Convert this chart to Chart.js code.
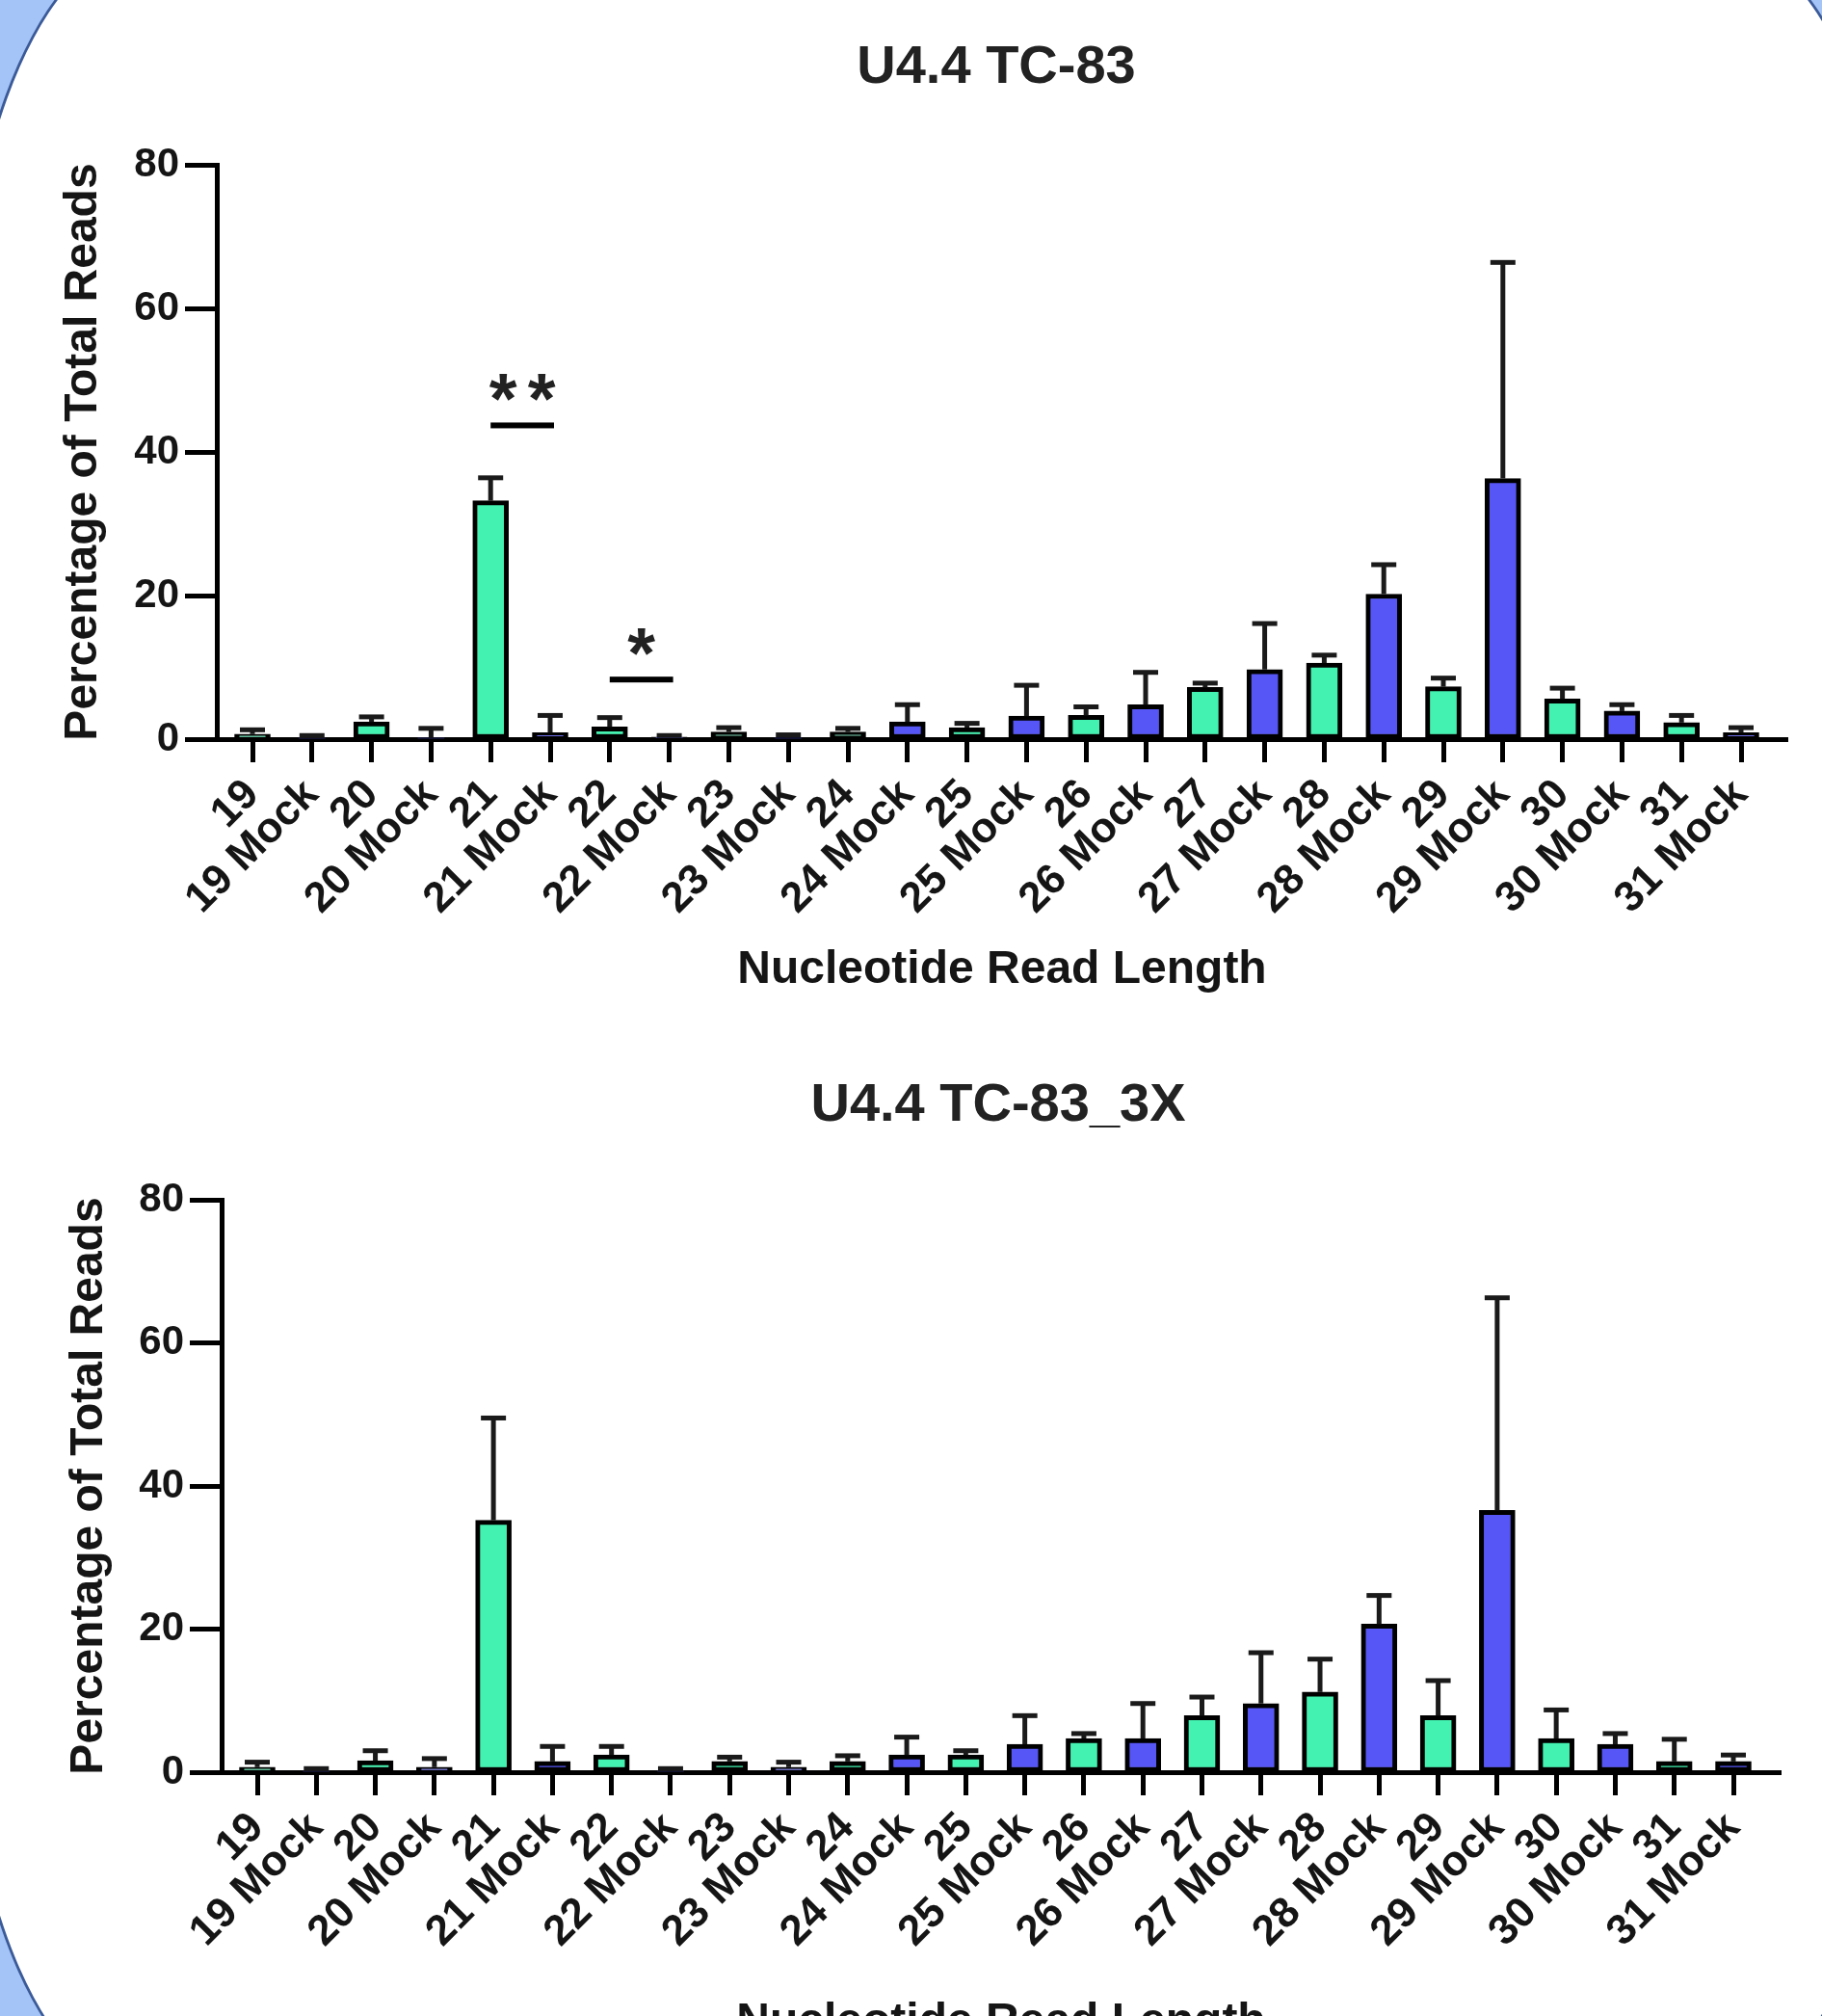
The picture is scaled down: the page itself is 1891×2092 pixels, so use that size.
<!DOCTYPE html>
<html>
<head>
<meta charset="utf-8">
<script src="https://cdn.jsdelivr.net/npm/chart.js@4.4.1/dist/chart.umd.min.js"></script>
<style>
html, body { margin: 0; padding: 0; width: 1891px; height: 2092px; overflow: hidden; background: #a4c4f8; }
#shape { position: absolute; left: -40px; top: -65px; width: 2016px; height: 2242px; border-radius: 200px / 450px;
  background: #ffffff; border: 3px solid #3b5a98; box-sizing: border-box; }
.wrap { position: absolute; left: 0; width: 1891px; }
#w1 { top: 0px; height: 1080px; }
#w2 { top: 1080px; height: 1100px; }
</style>
</head>
<body>
<div id="shape"></div>
<div class="wrap" id="w1"><canvas id="c1"></canvas></div>
<div class="wrap" id="w2"><canvas id="c2"></canvas></div>
<script>
// ---------- data ----------
const categories = ['19', '19 Mock', '20', '20 Mock', '21', '21 Mock', '22', '22 Mock', '23', '23 Mock',
  '24', '24 Mock', '25', '25 Mock', '26', '26 Mock', '27', '27 Mock', '28', '28 Mock', '29', '29 Mock',
  '30', '30 Mock', '31', '31 Mock'];

const tc83Means  = [0.7, 0.2, 2.4, 0.2, 33.2, 0.9, 1.7, 0.3, 1.0, 0.2, 1.0, 2.4, 1.6, 3.2, 3.3, 4.8,
  7.2, 9.7, 10.6, 20.2, 7.3, 36.3, 5.6, 3.9, 2.3, 0.9];
const tc83Errors = [0.6, 0.3, 0.7, 1.3, 3.2, 2.4, 1.3, 0.2, 0.6, 0.4, 0.5, 2.4, 0.6, 4.3, 1.2, 4.5,
  0.6, 6.4, 1.1, 4.1, 1.2, 30.1, 1.5, 0.9, 1.0, 0.7];

const tc83x3Means  = [0.7, 0.2, 1.6, 0.7, 35.2, 1.5, 2.4, 0.2, 1.5, 0.7, 1.5, 2.4, 2.4, 3.9, 4.7, 4.7,
  7.9, 9.6, 11.2, 20.7, 7.9, 36.6, 4.7, 3.9, 1.5, 1.5];
const tc83x3Errors = [0.7, 0.3, 1.4, 1.2, 14.3, 2.1, 1.2, 0.3, 0.6, 0.7, 0.8, 2.5, 0.6, 4.0, 0.7, 4.9,
  2.6, 7.1, 4.6, 4.0, 4.9, 29.7, 4.0, 1.5, 3.1, 0.9];

const yTicks = [0, 20, 40, 60, 80];

const tc83Significance = [
  { from: '21', to: '21 Mock', lineValue: 43.7, starValue: 49.0, label: '**' },
  { from: '22', to: '22 Mock', lineValue: 8.3, starValue: 13.6, label: '*' }
];
const tc83x3Significance = [];

// ---------- styles ----------
const GREEN = '#43f2b0';
const BLUE = '#5656f6';
const FONT = '"Liberation Sans", Arial, sans-serif';
const TEXT = '#151515';

function barColor(cat) { return cat.indexOf('Mock') >= 0 ? BLUE : GREEN; }

const errorBarPlugin = {
  id: 'errorBars',
  afterDatasetsDraw(chart, args, opts) {
    const { ctx, scales: { y } } = chart;
    const meta = chart.getDatasetMeta(0);
    const ds = chart.data.datasets[0].data;
    ctx.save();
    ctx.strokeStyle = '#1a1a1a';
    ctx.lineWidth = 5;
    ctx.lineCap = 'butt';
    meta.data.forEach((bar, i) => {
      const v = ds[i].y;
      const e = opts.errors[i];
      const cx = bar.x;
      const yv = y.getPixelForValue(v);
      const ye = y.getPixelForValue(v + e);
      ctx.beginPath();
      ctx.moveTo(cx, yv);
      ctx.lineTo(cx, ye);
      ctx.stroke();
      ctx.beginPath();
      ctx.moveTo(cx - 13, ye);
      ctx.lineTo(cx + 13, ye);
      ctx.stroke();
    });
    ctx.restore();
  }
};

const sigPlugin = {
  id: 'sigMarks',
  afterDatasetsDraw(chart, args, opts) {
    const marks = opts.marks || [];
    const { ctx, scales: { x, y } } = chart;
    ctx.save();
    marks.forEach(m => {
      const x1 = x.getPixelForValue(categories.indexOf(m.from));
      const x2 = x.getPixelForValue(categories.indexOf(m.to));
      const yl = y.getPixelForValue(m.lineValue);
      ctx.fillStyle = '#000';
      ctx.fillRect(x1, yl - 3, x2 - x1 + 4, 6);
      const ys = y.getPixelForValue(m.starValue);
      ctx.font = 'bold 74px ' + FONT;
      ctx.textAlign = 'center';
      ctx.textBaseline = 'alphabetic';
      ctx.fillStyle = '#222';
      const mt = ctx.measureText('*');
      const base = ys + (mt.actualBoundingBoxAscent - mt.actualBoundingBoxDescent) / 2;
      const n = m.label.length;
      const cxm = (x1 + x2) / 2 + 2;
      for (let k = 0; k < n; k++) {
        ctx.fillText(m.label[k], cxm + (k - (n - 1) / 2) * 40, base);
      }
    });
    ctx.restore();
  }
};

const panelTitlePlugin = {
  id: 'panelTitle',
  afterDraw(chart, args, opts) {
    const { ctx } = chart;
    ctx.save();
    ctx.font = 'bold 56px ' + FONT;
    ctx.fillStyle = '#222';
    ctx.textAlign = 'center';
    ctx.textBaseline = 'middle';
    ctx.fillText(opts.text, opts.x, opts.y);
    ctx.restore();
  }
};

function buildChart(canvasId, L) {
  const n = categories.length;
  const ppu = (L.lastCenter - L.firstCenter) / (n - 1);
  const xMin = -(L.firstCenter - L.left) / ppu;
  const xMax = (n - 1) + (L.right - L.lastCenter) / ppu;
  const top = L.top - L.wrapTop;
  const bottom = L.bottom - L.wrapTop;
  const xScaleBottom = L.xTitleY - L.wrapTop + 28.8;
  return new Chart(document.getElementById(canvasId), {
    type: 'bar',
    data: {
      datasets: [{
        data: categories.map((c, i) => ({ x: i, y: L.means[i] })),
        backgroundColor: categories.map(barColor),
        borderColor: '#000',
        borderWidth: 5,
        borderSkipped: false,
        barThickness: 37
      }]
    },
    plugins: [errorBarPlugin, sigPlugin, panelTitlePlugin],
    options: {
      responsive: true,
      maintainAspectRatio: false,
      devicePixelRatio: 1,
      animation: false,
      events: [],
      layout: { padding: { top: top, bottom: L.height - xScaleBottom, left: 0, right: 1891 - L.right } },
      plugins: {
        legend: { display: false },
        tooltip: { enabled: false },
        title: { display: false },
        errorBars: { errors: L.errors },
        sigMarks: { marks: L.sig },
        panelTitle: { text: L.title, x: L.titleX, y: L.titleY - L.wrapTop }
      },
      scales: {
        x: {
          type: 'linear',
          offset: false,
          bounds: 'data',
          min: xMin,
          max: xMax,
          afterBuildTicks: s => { s.ticks = categories.map((c, i) => ({ value: i })); },
          afterFit: s => { s.height = xScaleBottom - bottom; },
          ticks: {
            autoSkip: false,
            maxRotation: 45,
            minRotation: 45,
            padding: 8,
            color: TEXT,
            font: { family: FONT, size: 44, weight: 'bold' },
            callback: v => categories[v]
          },
          grid: { offset: false, drawOnChartArea: false, drawTicks: true, tickLength: 24, tickWidth: 5, tickColor: '#000' },
          border: { display: true, width: 5, color: '#000' },
          title: {
            display: true,
            text: 'Nucleotide Read Length',
            color: TEXT,
            font: { family: FONT, size: 48, weight: 'bold', lineHeight: 1.2 },
            padding: { top: 0, bottom: 0 }
          }
        },
        y: {
          min: 0,
          max: 80,
          afterBuildTicks: s => { s.ticks = yTicks.map(v => ({ value: v })); },
          afterFit: s => { s.width = L.left; },
          ticks: {
            padding: 6,
            color: TEXT,
            font: { family: FONT, size: 42, weight: 'bold' }
          },
          grid: { drawOnChartArea: false, drawTicks: true, tickLength: 33, tickWidth: 5, tickColor: '#000' },
          border: { display: true, width: 5, color: '#000' },
          title: {
            display: true,
            text: 'Percentage of Total Reads',
            color: TEXT,
            font: { family: FONT, size: 48, weight: 'bold', lineHeight: 1.2 },
            padding: { top: L.yTitleX - 28.8, bottom: 0 }
          }
        }
      }
    }
  });
}

buildChart('c1', {
  wrapTop: 0, height: 1080,
  left: 225, right: 1855, top: 171, bottom: 767,
  firstCenter: 262, lastCenter: 1807,
  xTitleY: 1007, yTitleX: 87,
  title: 'U4.4 TC-83', titleX: 1034, titleY: 71,
  means: tc83Means, errors: tc83Errors, sig: tc83Significance
});

buildChart('c2', {
  wrapTop: 1080, height: 1100,
  left: 230, right: 1848, top: 1245, bottom: 1839,
  firstCenter: 267, lastCenter: 1799,
  xTitleY: 2099, yTitleX: 93,
  title: 'U4.4 TC-83_3X', titleX: 1036, titleY: 1148,
  means: tc83x3Means, errors: tc83x3Errors, sig: tc83x3Significance
});
</script>
</body>
</html>
